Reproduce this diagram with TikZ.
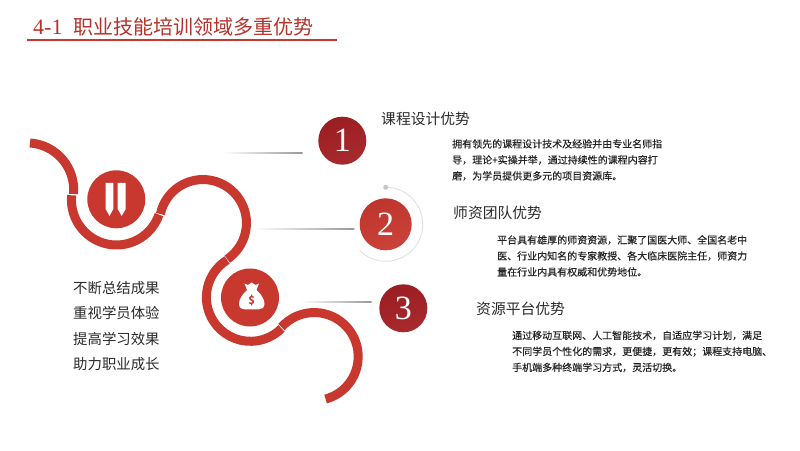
\documentclass[tikz,border=0pt]{standalone}
\usepackage{fontspec}
\setmainfont{Noto Sans CJK SC}
\newfontfamily\numfont{Liberation Serif}
\newfontfamily\bodyfont[FakeBold=0.25]{Noto Sans CJK SC}
\definecolor{myred}{HTML}{C8382F}
\definecolor{mydark}{HTML}{A31F24}
\definecolor{mytext}{HTML}{2B2B2B}
\tikzset{
  x=1pt,y=1pt,
  band/.style={draw=myred,line width=9pt},
  iconbg/.style={circle,fill=myred,minimum size=58pt,inner sep=0pt},
  numdark/.style={circle,minimum size=48pt,inner sep=0pt,shade,shading=axis,left color=mydark!95!black,right color=mydark!95!white,shading angle=20,text=white,font=\numfont\fontsize{34}{34}\selectfont},
  numlight/.style={circle,minimum size=52pt,inner sep=0pt,shade,shading=axis,left color=myred!95!black,right color=myred!95!white,shading angle=20,text=white,font=\numfont\fontsize{34}{34}\selectfont},
  head/.style={anchor=west,inner sep=0pt,text=mytext,font=\fontsize{14.8}{15}\selectfont},
  bodytext/.style={anchor=north west,inner sep=0pt,align=left,text=black!85,font=\bodyfont\fontsize{10}{16}\selectfont},
  side/.style={anchor=west,inner sep=0pt,text=mytext,font=\fontsize{14.4}{15}\selectfont},
  pen/.style={fill=white,draw=none}
}
\begin{document}
\begin{tikzpicture}
\useasboundingbox (0,0) rectangle (800,450);
\fill[white] (0,0) rectangle (800,450);
% title
\node[anchor=west,inner sep=0pt,text=myred!90!black] (title) at (33,423.5) {\fontsize{20}{20}\selectfont{\numfont\fontsize{22}{22}\selectfont 4-1}\hspace{11pt}职业技能培训领域多重优势};
\coordinate (ua) at (27,410); \coordinate (ub) at (337,410);
\draw[myred,line width=1.2pt] (ua) -- (ub);
% band
\draw[band] (30,307) arc[start angle=86,end angle=-5,radius=47];
\draw[band] (71.7,254.7) arc[start angle=174,end angle=341,radius=45];
\draw[band] (160.4,236) arc[start angle=168,end angle=-56,radius=43.5];
\draw[band] (227.1,190) arc[start angle=122,end angle=315,radius=44];
\draw[band] (281.5,122.9) arc[start angle=138,end angle=-75,radius=44];
% icons
\node[iconbg] (iconA) at (116.3,250.7) {};
\node[iconbg] (iconB) at (250,152.5) {};
\fill[pen] (105.7,267) -- (113.3,267) -- (113.3,241) -- (109.5,234) -- (105.7,241) -- cycle;
\fill[pen] (117.7,267) -- (125.7,267) -- (125.7,241) -- (121.7,234) -- (117.7,241) -- cycle;
\fill[pen] (247,160) -- (244.5,166.5) -- (248,165) -- (251.7,167.5) -- (255.5,165) -- (259,166.5) -- (256.5,160) .. controls (261,156) and (264.5,151) .. (264.5,146) .. controls (264.5,142) and (261,140.5) .. (258,140.5) -- (245,140.5) .. controls (242,140.5) and (239,142) .. (239,146) .. controls (239,151) and (242.5,156) .. (247,160) -- cycle;
\node[inner sep=0pt,text=myred,font=\bfseries\fontsize{11}{11}\selectfont] (dollar) at (251.7,149) {\$};
% numbered circles
\node[numdark] (n1) at (342.3,309.3) {1};
\draw[black!13,line width=0.8pt] (385.7,262.7) arc[start angle=90,end angle=-135,radius=37];
\fill[black!22] (385.7,262.7) circle (2.5);
\node[numlight] (n2) at (385.7,225.7) {2};
\node[numdark] (n3) at (403.3,141.7) {3};
% fading lines
\coordinate (la) at (223,296.8); \coordinate (lb) at (302.7,297.7);
\coordinate (ma) at (253,220.8); \coordinate (mb) at (354.3,221.7);
\coordinate (pa) at (300,147.9); \coordinate (pb) at (371.7,148.8);
\shade[left color=white,right color=black!40] (la) rectangle (lb);
\shade[left color=white,right color=black!40] (ma) rectangle (mb);
\shade[left color=white,right color=black!40] (pa) rectangle (pb);
% headings and bodies
\node[head] (h1) at (381,331.5) {课程设计优势};
\node[bodytext] (b1) at (452,311) {拥有领先的课程设计技术及经验并由专业名师指\\导，理论+实操并举，通过持续性的课程内容打\\磨，为学员提供更多元的项目资源库。};
\node[head] (h2) at (453,237.5) {师资团队优势};
\node[bodytext] (b2) at (497,215) {平台具有雄厚的师资资源，汇聚了国医大师、全国名老中\\医、行业内知名的专家教授、各大临床医院主任，师资力\\量在行业内具有权威和优势地位。};
\node[head] (h3) at (476,141) {资源平台优势};
\node[bodytext] (b3) at (512,119.5) {通过移动互联网、人工智能技术，自适应学习计划，满足\\不同学员个性化的需求，更便捷，更有效；课程支持电脑、\\手机端多种终端学习方式，灵活切换。};
% side
\node[side] (s1) at (73,161.7) {不断总结成果};
\node[side] (s2) at (73,136.7) {重视学员体验};
\node[side] (s3) at (73,111) {提高学习效果};
\node[side] (s4) at (73,85.7) {助力职业成长};
\end{tikzpicture}
\end{document}
